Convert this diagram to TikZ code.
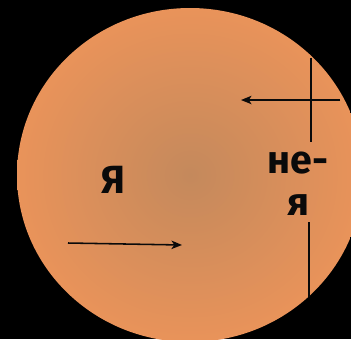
\documentclass[tikz,border=0pt]{standalone}
\usepackage{fontspec}
\setmainfont{Fira Sans}
\usetikzlibrary{arrows.meta, positioning, shapes.geometric}
\definecolor{OR}{RGB}{233,147,90}
\definecolor{BR}{RGB}{196,137,92}
\definecolor{DK}{RGB}{10,10,10}

\begin{document}
\begin{tikzpicture}[
  lbl/.style={font=\fontsize{28}{30}\selectfont\bfseries, text=DK, align=center,
              inner sep=0pt},
  arr/.style={-{Stealth[length=7.5pt, width=6pt, inset=2pt]}, line width=1.1pt, draw=DK},
  tick/.style={line width=1pt, draw=DK}
]
\useasboundingbox (0,0) rectangle (8.775,-8.475);
\fill[black] (0,0) rectangle (8.775,-8.475);
\clip (0,0) rectangle (8.775,-8.475);

% Disc
\node[ellipse, minimum width=8.65cm, minimum height=8.35cm, inner color=BR,
      outer color=OR, draw=none] (disc) at (4.75,-4.375) {};

% Labels
\node[lbl] (self)  at (2.825,-4.5)  {Я};
\node[lbl] (other) at (7.45,-4.6)   {не-\\я};

% Ends of the strokes
\coordinate (t1) at (7.775,-1.45);
\coordinate (t2) at (7.775,-3.55);
\coordinate (h1) at (8.5,-2.5);
\coordinate (h2) at (6.025,-2.5);
\coordinate (b1) at (7.725,-5.55);
\coordinate (b2) at (7.725,-7.425);
\coordinate (a1) at (1.7,-6.075);
\coordinate (a2) at (4.55,-6.125);

\draw[tick] (t1)--(t2);
\draw[arr]  (h1)--(h2);
\draw[tick] (b1)--(b2);
\draw[arr]  (a1)--(a2);
\end{tikzpicture}
\end{document}
